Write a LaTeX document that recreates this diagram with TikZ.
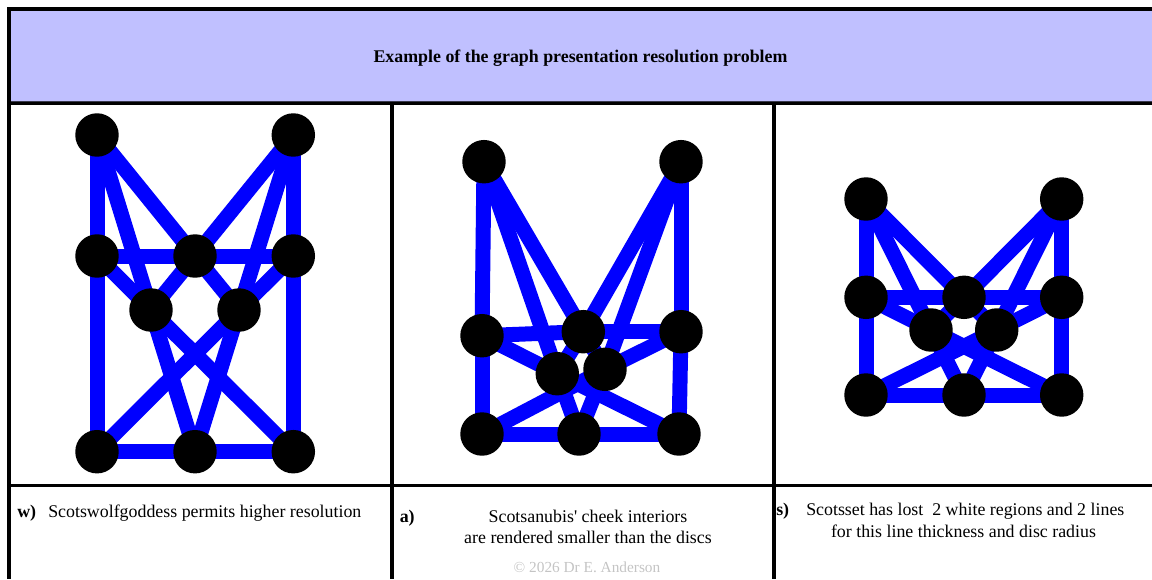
\documentclass[tikz,border=0pt]{standalone}
\usepackage{fontspec}
\setmainfont{Liberation Serif}
\definecolor{gblue}{HTML}{0000FF}
\definecolor{headfill}{HTML}{C0C0FF}
\definecolor{copygrey}{HTML}{C4C4C4}
\begin{document}
\begin{tikzpicture}[x=0.75pt,y=-0.75pt,
  edge/.style={draw=gblue, line width=11.25pt},
  disc/.style={circle, fill=black, minimum size=32.6pt, inner sep=0pt},
  rule/.style={draw=black, line width=2.3pt},
  body/.style={font=\fontsize{13.4}{16}\selectfont, inner sep=0pt},
  lab/.style={font=\fontsize{13.4}{16}\selectfont\bfseries, inner sep=0pt, anchor=base west}]
\useasboundingbox (0,0) rectangle (1152,579);
% header band
\fill[headfill] (11,10) rectangle (1152,102);
\draw[draw=black!70!headfill, line width=0.8pt] (11,101.5) -- (1152,101.5);
% table rules
\draw[draw=black, line width=3pt] (7,8.5) -- (1152,8.5);
\draw[draw=black, line width=3pt] (9,7) -- (9,579);
\draw[rule] (9,103.8) -- (1152,103.8);
\draw[rule] (392,103.8) -- (392,579);
\draw[rule] (774,103.8) -- (774,579);
\draw[rule] (9,485.5) -- (1152,485.5);
% title
\node[font=\fontsize{13.4}{16}\selectfont\bfseries, inner sep=0pt, anchor=base] (title) at (580.5,62) {Example of the graph presentation resolution problem};
% graph w
\coordinate (wtl) at (97,135);   \coordinate (wtr) at (293.3,135);
\coordinate (wml) at (97,256);   \coordinate (wmc) at (195,256);  \coordinate (wmr) at (293.3,256);
\coordinate (wil) at (151,310);  \coordinate (wir) at (239,310);
\coordinate (wbl) at (97,451.7); \coordinate (wbc) at (195,451.7); \coordinate (wbr) at (293.3,451.7);
% graph a
\coordinate (atl) at (484,161.7);   \coordinate (atr) at (681,161.7);
\coordinate (aml) at (482,335.7);   \coordinate (amc) at (583.3,331.7);  \coordinate (amr) at (681,331.7);
\coordinate (ail) at (557.3,373.7); \coordinate (air) at (605,369.3);
\coordinate (abl) at (482,434);     \coordinate (abc) at (579,434);      \coordinate (abr) at (679,434);
% graph s
\coordinate (stl) at (866,199);   \coordinate (str) at (1061.7,199);
\coordinate (sml) at (866,297.3); \coordinate (smc) at (964,297.3);  \coordinate (smr) at (1061.7,297.3);
\coordinate (sil) at (931,330);   \coordinate (sir) at (996.7,330);
\coordinate (sbl) at (866,395);   \coordinate (sbc) at (964,395);    \coordinate (sbr) at (1061.7,395);
\foreach \p in {w,a,s}{
  \foreach \u/\v in {tl/ml, ml/bl, tr/mr, mr/br, tl/mc, tr/mc, tl/il, il/bc, tr/ir, ir/bc,
                     ml/mc, mc/mr, ml/il, mr/ir, mc/il, mc/ir, il/br, ir/bl, bl/bc, bc/br}
    \draw[edge] (\p\u) -- (\p\v);
  \foreach \u in {tl,tr,ml,mc,mr,il,ir,bl,bc,br}
    \node[disc] (\p\u-d) at (\p\u) {};
}
% captions
\node[lab] (wlab) at (17,517) {w)};
\node[body, anchor=base west] (wtxt) at (48,517) {Scotswolfgoddess permits higher resolution};
\node[lab] (alab) at (399.5,522) {a)};
\node[body, anchor=base] (atxt1) at (588,522) {Scotsanubis\textquotesingle{} cheek interiors};
\node[body, anchor=base] (atxt2) at (588,543.5) {are rendered smaller than the discs};
\node[font=\fontsize{11.5}{14}\selectfont, text=copygrey, inner sep=0pt, anchor=base] (copy) at (587,572) {\textcopyright{} 2026 Dr E. Anderson};
\node[lab] (slab) at (776,515) {s)};
\node[body, anchor=base west] (stxt1) at (806,515) {Scotsset has lost\ \ 2 white regions and 2 lines};
\node[body, anchor=base] (stxt2) at (963.5,537) {for this line thickness and disc radius};
\end{tikzpicture}
\end{document}
